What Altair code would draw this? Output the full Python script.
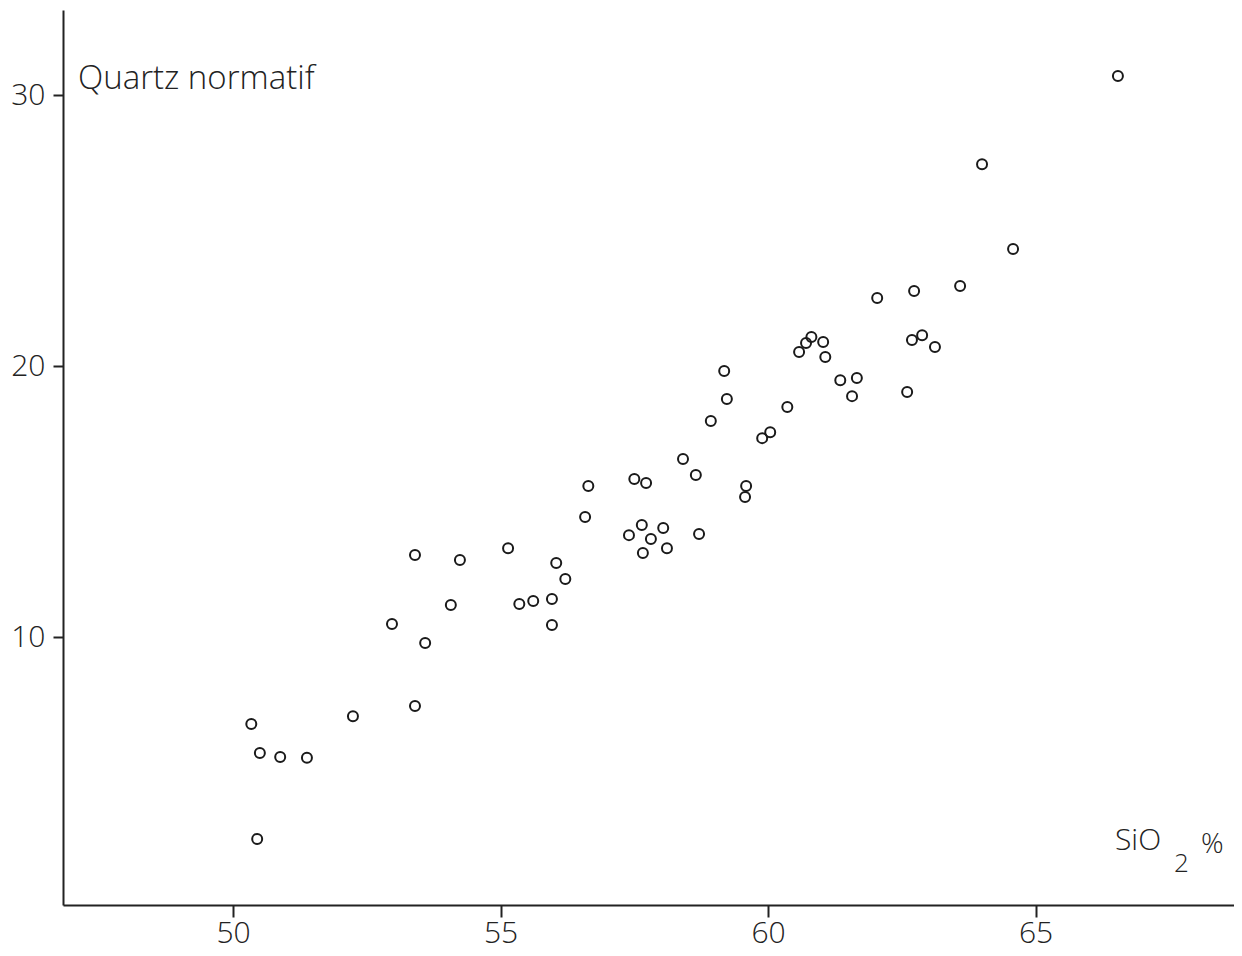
import altair as alt
import pandas as pd

# SiO2 % and normative quartz
sio2 = [50.34, 50.50, 50.88, 51.38, 50.45, 52.24, 52.97, 53.40, 53.40, 53.59,
        54.07, 54.24, 55.14, 55.35, 55.61, 55.96, 55.96, 56.04, 56.21, 56.58,
        56.64, 57.40, 57.50, 57.72, 57.64, 57.66, 57.81, 58.04, 58.11, 58.41,
        58.65, 58.71, 58.93, 59.18, 59.23, 59.59, 59.57, 59.89, 60.04, 60.36,
        60.58, 60.71, 60.81, 61.03, 61.07, 61.35, 61.66, 61.57, 62.04, 62.60,
        62.73, 62.69, 62.88, 63.12, 63.59, 64.00, 64.58, 66.54]
quartz = [6.79, 5.72, 5.57, 5.54, 2.55, 7.08, 10.48, 13.03, 7.45, 9.78,
          11.18, 12.84, 13.28, 11.22, 11.33, 11.40, 10.44, 12.73, 12.14, 14.43,
          15.57, 13.76, 15.83, 15.68, 14.13, 13.10, 13.62, 14.02, 13.28, 16.57,
          15.98, 13.80, 17.97, 19.82, 18.78, 15.57, 15.17, 17.34, 17.56, 18.49,
          20.52, 20.85, 21.07, 20.89, 20.33, 19.48, 19.56, 18.89, 22.51, 19.04,
          22.77, 20.96, 21.14, 20.70, 22.95, 27.45, 24.32, 30.70]

x_ticks = [50, 55, 60, 65]
y_ticks = [10, 20, 30]

y_title = "Quartz normatif"
x_title_main = "SiO"
x_title_sub = "2"
x_title_pct = "%"

df = pd.DataFrame({"sio2": sio2, "quartz": quartz})

FONT = "Open Sans"
INK = "#222222"

points = alt.Chart(df).mark_point(
    shape="circle", filled=False, size=100, strokeWidth=2, color="#1a1a1a", opacity=1
).encode(
    x=alt.X("sio2:Q",
            scale=alt.Scale(domain=[46.82, 68.71], nice=False, zero=False),
            axis=alt.Axis(values=x_ticks, title=None, grid=False, format="d",
                          domainColor=INK, domainWidth=2, tickColor=INK, tickWidth=2,
                          tickSize=12, labelPadding=1, labelFont=FONT, labelFontSize=30,
                          labelFontWeight=300, labelColor=INK)),
    y=alt.Y("quartz:Q",
            scale=alt.Scale(domain=[0.11, 33.14], nice=False, zero=False),
            axis=alt.Axis(values=y_ticks, title=None, grid=False, format="d",
                          domainColor=INK, domainWidth=2, tickColor=INK, tickWidth=2,
                          tickSize=10, labelPadding=8, labelFont=FONT, labelFontSize=30,
                          labelFontWeight=300, labelColor=INK)),
)

title_y = alt.Chart(pd.DataFrame({"t": [y_title]})).mark_text(
    align="left", baseline="alphabetic", font=FONT, fontSize=33, fontWeight=300, color=INK
).encode(text="t:N", x=alt.value(15), y=alt.value(79))

title_x1 = alt.Chart(pd.DataFrame({"t": [x_title_main]})).mark_text(
    align="left", baseline="alphabetic", font=FONT, fontSize=30, fontWeight=300, color=INK
).encode(text="t:N", x=alt.value(1052), y=alt.value(840))

title_x2 = alt.Chart(pd.DataFrame({"t": [x_title_sub]})).mark_text(
    align="left", baseline="alphabetic", font=FONT, fontSize=26, fontWeight=300, color=INK
).encode(text="t:N", x=alt.value(1111), y=alt.value(862))

title_x3 = alt.Chart(pd.DataFrame({"t": [x_title_pct]})).mark_text(
    align="left", baseline="alphabetic", font=FONT, fontSize=28, fontWeight=300, color=INK
).encode(text="t:N", x=alt.value(1138), y=alt.value(843))

chart = alt.layer(points, title_y, title_x1, title_x2, title_x3).properties(
    width=1171, height=895,
    autosize=alt.AutoSizeParams(type="none"),
    padding={"left": 55, "top": 2, "right": 0, "bottom": 45},
    background="white",
).configure_view(stroke=None)

chart.save("out.html", embed_options={"renderer": "svg", "actions": False})
